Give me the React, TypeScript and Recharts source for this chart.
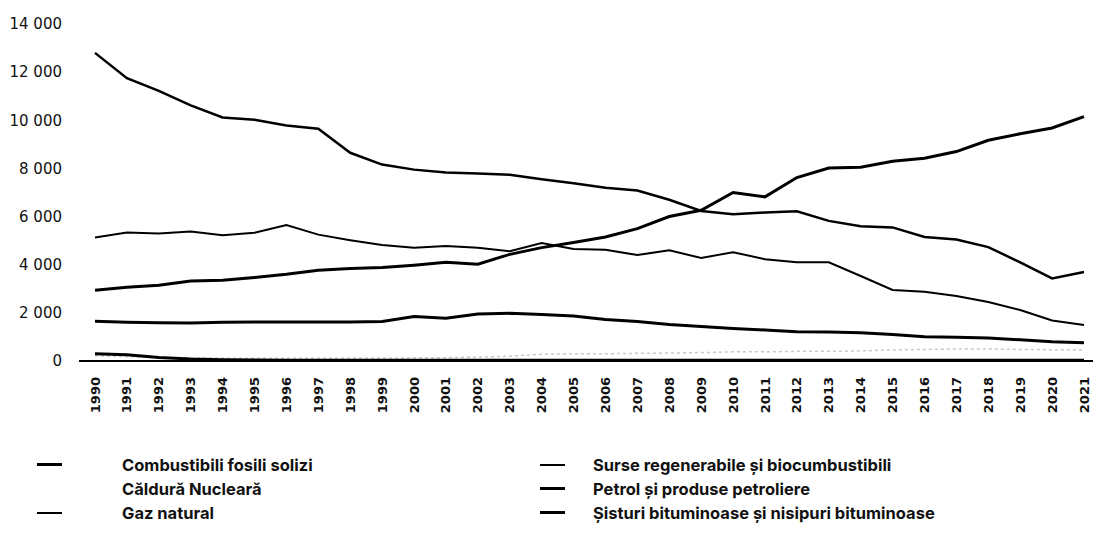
import React from 'react';
import { LineChart, Line, XAxis, YAxis } from 'recharts';

const years = [
  '1990', '1991', '1992', '1993', '1994', '1995', '1996', '1997', '1998', '1999',
  '2000', '2001', '2002', '2003', '2004', '2005', '2006', '2007', '2008', '2009',
  '2010', '2011', '2012', '2013', '2014', '2015', '2016', '2017', '2018', '2019',
  '2020', '2021',
];

const combustibiliSolizi = [
  12800, 11750, 11220, 10620, 10120, 10020, 9780, 9650, 8650, 8160,
  7950, 7830, 7790, 7740, 7550, 7380, 7200, 7080, 6700, 6230,
  6100, 6170, 6220, 5820, 5600, 5550, 5150, 5050, 4730, 4100,
  3430, 3700,
];

const surseRegenerabile = [
  2940, 3060, 3150, 3320, 3350, 3470, 3600, 3770, 3840, 3880,
  3980, 4100, 4020, 4430, 4710, 4920, 5150, 5500, 6000, 6260,
  7000, 6820, 7620, 8020, 8050, 8300, 8420, 8700, 9170, 9440,
  9680, 10150,
];

const petrol = [
  5130, 5340, 5300, 5380, 5220, 5330, 5650, 5250, 5020, 4820,
  4700, 4780, 4700, 4560, 4900, 4650, 4620, 4400, 4600, 4280,
  4520, 4230, 4100, 4100, 3530, 2950, 2880, 2700, 2450, 2120,
  1680, 1500,
];

const gazNatural = [
  1650, 1610, 1590, 1580, 1610, 1620, 1620, 1620, 1620, 1640,
  1850, 1780, 1950, 1980, 1930, 1870, 1720, 1640, 1520, 1430,
  1350, 1290, 1220, 1200, 1170, 1100, 1010, 990, 960, 880,
  800, 760,
];

const nuclear = [
  220, 180, 150, 130, 120, 110, 110, 110, 120, 120,
  130, 140, 160, 200, 280, 300, 300, 320, 330, 350,
  380, 380, 400, 400, 420, 460, 480, 500, 500, 480,
  470, 460,
];

const sisturi = [
  300, 260, 150, 80, 50, 40, 35, 30, 30, 30,
  30, 30, 30, 30, 30, 30, 30, 30, 30, 30,
  30, 30, 30, 30, 30, 30, 30, 30, 30, 30,
  30, 30,
];

const yTicks = [0, 2000, 4000, 6000, 8000, 10000, 12000, 14000];

const data = years.map((year, i) => ({
  year,
  solid: combustibiliSolizi[i],
  ren: surseRegenerabile[i],
  oil: petrol[i],
  gas: gazNatural[i],
  nuc: nuclear[i],
  shale: sisturi[i],
}));

const series = [
  { key: 'solid', name: 'Combustibili fosili solizi', color: '#000', width: 2.5, glyph: 3 },
  { key: 'nuc', name: 'Căldură Nucleară', color: '#c8c8c8', width: 1.5, glyph: 0, dash: '3 3' },
  { key: 'gas', name: 'Gaz natural', color: '#000', width: 3, glyph: 2 },
  { key: 'ren', name: 'Surse regenerabile și biocumbustibili', color: '#000', width: 3, glyph: 2 },
  { key: 'oil', name: 'Petrol și produse petroliere', color: '#000', width: 2, glyph: 3 },
  { key: 'shale', name: 'Șisturi bituminoase și nisipuri bituminoase', color: '#000', width: 3, glyph: 3 },
];

const fmt = (v: number) => String(v).replace(/\B(?=(\d{3})+(?!\d))/g, ' ');

const YearTick = (props: any) => {
  const { x, y, payload } = props;
  return (
    <text
      x={x}
      y={y}
      dy="0.35em"
      textAnchor="end"
      transform={`rotate(-90, ${x}, ${y})`}
      fontFamily="DejaVu Sans"
      fontWeight="bold"
      fontSize={13}
      fill="#111"
    >
      {payload.value}
    </text>
  );
};

const LegendItem = ({ s, left, top, glyphLeft }: any) => (
  <div style={{ position: 'absolute', left: 0, top, height: 24, width: 560 }}>
    {s.glyph > 0 && (
      <div
        style={{
          position: 'absolute',
          left: glyphLeft,
          top: 12 - Math.ceil(s.glyph / 2),
          width: 25,
          height: s.glyph,
          background: s.color,
        }}
      />
    )}
    <div
      style={{
        position: 'absolute',
        left,
        top: 0,
        lineHeight: '24px',
        fontFamily: 'Inter',
        fontWeight: 700,
        fontSize: 16.5,
        color: '#111',
        whiteSpace: 'nowrap',
      }}
    >
      {s.name}
    </div>
  </div>
);

export default function App() {
  return (
    <div style={{ position: 'absolute', left: 0, top: 0, width: 1093, height: 556, background: '#fff', overflow: 'hidden' }}>
      <LineChart width={1093} height={440} data={data} margin={{ top: 24, right: 0, bottom: 0, left: 0 }}>
        <XAxis
          dataKey="year"
          interval={0}
          height={79}
          padding={{ left: 16, right: 9 }}
          tickLine={false}
          tickSize={0}
          tickMargin={16}
          axisLine={{ stroke: '#000', strokeWidth: 2 }}
          tick={<YearTick />}
        />
        <YAxis
          width={79}
          domain={[0, 14000]}
          ticks={yTicks}
          tickFormatter={fmt}
          axisLine={false}
          tickLine={false}
          tickSize={0}
          tickMargin={17}
          tick={{ fontFamily: 'DejaVu Sans', fontSize: 15, fill: '#111' }}
        />
        {series.map((s) => (
          <Line
            key={s.key}
            dataKey={s.key}
            name={s.name}
            stroke={s.color}
            strokeWidth={s.width}
            strokeDasharray={s.dash}
            dot={false}
            activeDot={false}
            isAnimationActive={false}
            type="linear"
          />
        ))}
      </LineChart>
      {series.slice(0, 3).map((s, i) => (
        <LegendItem key={s.key} s={s} left={122} glyphLeft={37} top={453 + i * 24} />
      ))}
      {series.slice(3).map((s, i) => (
        <div key={s.key} style={{ position: 'absolute', left: 503, top: 0 }}>
          <LegendItem s={s} left={90} glyphLeft={37} top={453 + i * 24} />
        </div>
      ))}
    </div>
  );
}
